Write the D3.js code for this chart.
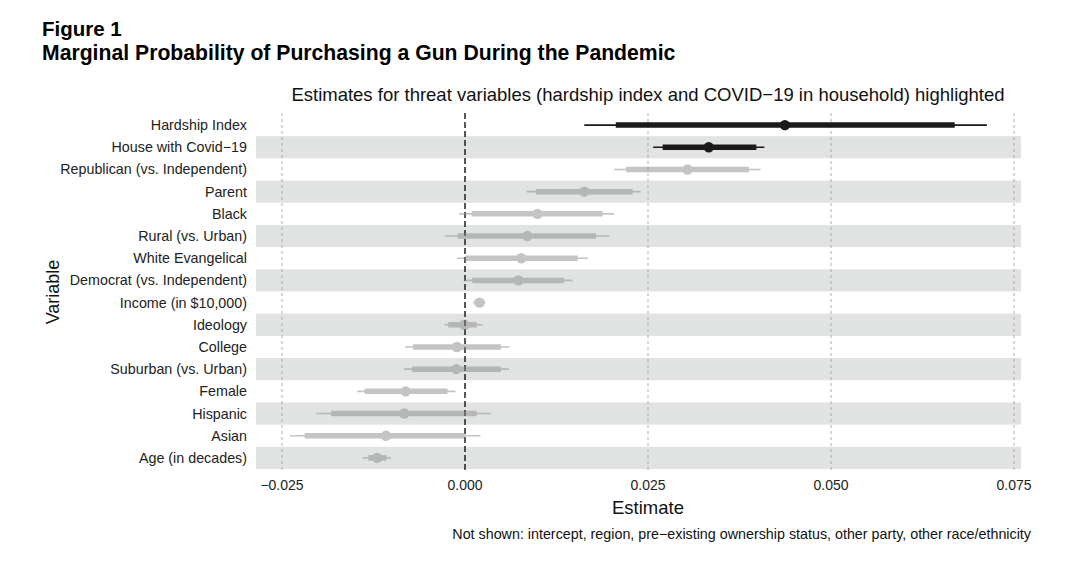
<!DOCTYPE html>
<html>
<head>
<meta charset="utf-8">
<script src="https://cdn.jsdelivr.net/npm/d3@7"></script>
<style>
  body { margin: 0; background: #fff; }
  text { font-family: "Liberation Sans", Arial, sans-serif; }
</style>
</head>
<body>
<div id="chart"></div>
<script>
// variables, top to bottom
var variables = ["Hardship Index", "House with Covid\u221219", "Republican (vs. Independent)", "Parent",
  "Black", "Rural (vs. Urban)", "White Evangelical", "Democrat (vs. Independent)", "Income (in $10,000)",
  "Ideology", "College", "Suburban (vs. Urban)", "Female", "Hispanic", "Asian", "Age (in decades)"];
var estimate = [0.0437, 0.0333, 0.0304, 0.0163, 0.0099, 0.0085, 0.0077, 0.0073, 0.0020,
  -0.0001, -0.0011, -0.0012, -0.0081, -0.0083, -0.0108, -0.0120];
var outerLo = [0.0163, 0.0257, 0.0204, 0.0084, -0.0008, -0.0027, -0.0011, -0.0002, 0.0011,
  -0.0028, -0.0082, -0.0083, -0.0147, -0.0203, -0.0239, -0.0140];
var outerHi = [0.0713, 0.0409, 0.0404, 0.0240, 0.0204, 0.0197, 0.0168, 0.0147, 0.0028,
  0.0024, 0.0061, 0.0060, -0.0013, 0.0035, 0.0021, -0.0101];
var innerLo = [0.0206, 0.0270, 0.0220, 0.0097, 0.0009, -0.0010, 0.0000, 0.0010, 0.0013,
  -0.0023, -0.0071, -0.0072, -0.0137, -0.0183, -0.0219, -0.0132];
var innerHi = [0.0669, 0.0398, 0.0388, 0.0229, 0.0188, 0.0179, 0.0154, 0.0135, 0.0026,
  0.0016, 0.0049, 0.0049, -0.0024, 0.0016, 0.0000, -0.0107];
var highlighted = ["Hardship Index", "House with Covid\u221219"];
var xTicks = [-0.025, 0, 0.025, 0.05, 0.075];

var w = 1073, h = 561;
var panelL = 256, panelR = 1021, panelT = 114, panelB = 469;

var svg = d3.select("#chart").append("svg")
  .attr("width", w).attr("height", h);

var x = d3.scaleLinear().domain([-0.025, 0.075]).range([282, 1014]);
var y = d3.scaleBand().domain(variables).range([panelT, panelB]).padding(0);

// alternating bands
svg.selectAll("rect.band")
  .data(variables.filter(function(d, i) { return i % 2 == 1; }))
  .enter().append("rect")
  .attr("x", panelL)
  .attr("width", panelR - panelL)
  .attr("y", function(d) { return y(d); })
  .attr("height", y.bandwidth())
  .attr("fill", "#e1e3e3");

// vertical guides
svg.selectAll("line.grid")
  .data(xTicks)
  .enter().append("line")
  .attr("x1", function(d) { return x(d); })
  .attr("x2", function(d) { return x(d); })
  .attr("y1", panelT - 1)
  .attr("y2", panelB + 1)
  .attr("stroke", function(d) { return d == 0 ? "#111" : "#999"; })
  .attr("stroke-width", function(d) { return d == 0 ? 1.4 : 0.8; })
  .attr("stroke-dasharray", function(d) { return d == 0 ? "6,3" : "3,3"; });

// estimates
var rows = variables.map(function(v, i) {
  return { name: v, est: estimate[i], olo: outerLo[i], ohi: outerHi[i], ilo: innerLo[i], ihi: innerHi[i] };
});

var g = svg.selectAll("g.row")
  .data(rows)
  .enter().append("g")
  .attr("opacity", function(d) { return highlighted.indexOf(d.name) >= 0 ? 1 : 0.5; })
  .attr("fill", function(d) { return highlighted.indexOf(d.name) >= 0 ? "#1a1a1a" : "#8a8a8a"; })
  .attr("stroke", function(d) { return highlighted.indexOf(d.name) >= 0 ? "#1a1a1a" : "#8a8a8a"; });

function cy(d) { return y(d.name) + y.bandwidth() / 2; }

g.append("line")
  .attr("x1", function(d) { return x(d.olo); })
  .attr("x2", function(d) { return x(d.ohi); })
  .attr("y1", cy).attr("y2", cy)
  .attr("stroke-width", 1.6);

g.append("line")
  .attr("x1", function(d) { return x(d.ilo); })
  .attr("x2", function(d) { return x(d.ihi); })
  .attr("y1", cy).attr("y2", cy)
  .attr("stroke-width", 5.5);

g.append("circle")
  .attr("cx", function(d) { return x(d.est); })
  .attr("cy", cy)
  .attr("r", 5.2)
  .attr("stroke", "none");

// y labels
svg.selectAll("text.ylab")
  .data(variables)
  .enter().append("text")
  .text(function(d) { return d; })
  .attr("x", 247)
  .attr("y", function(d) { return y(d) + y.bandwidth() / 2 + 5; })
  .attr("text-anchor", "end")
  .attr("font-size", "14.3px")
  .attr("fill", "#222");

// x tick labels
svg.selectAll("text.xlab")
  .data(xTicks)
  .enter().append("text")
  .text(function(d) { return d3.format(".3f")(d).replace("-", "\u2212"); })
  .attr("x", function(d) { return x(d); })
  .attr("y", 490)
  .attr("text-anchor", "middle")
  .attr("font-size", "14px")
  .attr("fill", "#222");

svg.append("text").text("Estimate")
  .attr("x", x(0.025)).attr("y", 514)
  .attr("text-anchor", "middle").attr("font-size", "18.5px").attr("fill", "#111");

svg.append("text").text("Variable")
  .attr("transform", "translate(59,292) rotate(-90)")
  .attr("text-anchor", "middle").attr("font-size", "18px").attr("fill", "#111");

svg.append("text").text("Estimates for threat variables (hardship index and COVID\u221219 in household) highlighted")
  .attr("x", 648).attr("y", 101)
  .attr("text-anchor", "middle").attr("font-size", "18.5px").attr("fill", "#111");

svg.append("text").text("Not shown: intercept, region, pre\u2212existing ownership status, other party, other race/ethnicity")
  .attr("x", 1031).attr("y", 539)
  .attr("text-anchor", "end").attr("font-size", "14.3px").attr("fill", "#111");

svg.append("text").text("Figure 1")
  .attr("x", 42).attr("y", 36)
  .attr("font-size", "20.5px").attr("font-weight", "bold").attr("fill", "#000");

svg.append("text").text("Marginal Probability of Purchasing a Gun During the Pandemic")
  .attr("x", 42).attr("y", 60)
  .attr("font-size", "21.2px").attr("font-weight", "bold").attr("fill", "#000");
</script>
</body>
</html>
